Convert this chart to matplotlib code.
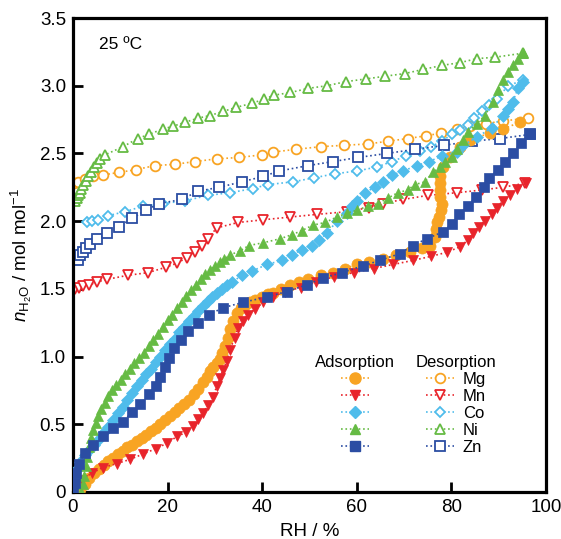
import matplotlib
matplotlib.use("Agg")
import matplotlib.pyplot as plt
from matplotlib.lines import Line2D

plt.rcParams['font.family'] = ['Liberation Sans', 'DejaVu Sans']
plt.rcParams['mathtext.fontset'] = 'custom'
plt.rcParams['mathtext.rm'] = 'Liberation Sans'
plt.rcParams['mathtext.it'] = 'Liberation Sans:italic'

metals = ['Mg', 'Mn', 'Co', 'Ni', 'Zn']
colors = ['#F8A423', '#E8242B', '#4FBCEB', '#66BB44', '#2B4DA3']
ads_markers = ['o', 'v', 'D', '^', 's']
des_markers = ['o', 'v', 'D', '^', 's']

# adsorption branches (RH %, n H2O mol/mol)
mg_ads_x = [0.5, 1.5, 2.5, 3.5, 4.5, 5.5, 6.5, 7.5, 8.5, 9.5, 10.5, 11.5, 12.5, 13.5, 14.5,
            15.5, 16.5, 17.5, 18.5, 19.5, 20.5, 21.5, 22.5, 23.5, 24.5, 25.5, 26.5, 27.5,
            28.3, 29.0, 29.7, 30.4, 31.0, 31.6, 32.1, 32.7, 33.2, 33.8, 34.7, 35.5, 36.4,
            37.5, 38.5, 40.0, 41.2, 42.3, 44.0, 45.9, 47.8, 49.7, 52.4, 55.0, 57.5, 60.0,
            62.7, 65.5, 68.3, 71.2, 73.8, 75.5, 76.5, 76.7, 76.9, 77.4, 77.8, 78.0, 77.7,
            77.6, 77.6, 77.6, 78.2, 79.7, 81.8, 83.9, 88.2, 90.9, 94.5]
mg_ads_y = [0.00, 0.02, 0.06, 0.10, 0.14, 0.17, 0.20, 0.23, 0.25, 0.28, 0.30, 0.33, 0.35, 0.38, 0.40,
            0.42, 0.45, 0.47, 0.50, 0.53, 0.56, 0.59, 0.62, 0.65, 0.68, 0.72, 0.76, 0.81,
            0.85, 0.89, 0.92, 0.95, 0.98, 1.03, 1.08, 1.14, 1.20, 1.26, 1.32, 1.36, 1.38,
            1.40, 1.42, 1.44, 1.46, 1.47, 1.50, 1.53, 1.55, 1.57, 1.60, 1.62, 1.65, 1.68,
            1.70, 1.72, 1.75, 1.77, 1.80, 1.82, 1.88, 1.94, 1.99, 2.03, 2.08, 2.13, 2.18,
            2.23, 2.28, 2.33, 2.40, 2.47, 2.55, 2.60, 2.65, 2.68, 2.73]

mn_ads_x = [0.0, 1.9, 4.0, 6.3, 9.3, 12.0, 14.8, 17.5, 19.9, 22.0, 23.9, 25.4, 26.4, 27.5,
            28.5, 29.6, 30.4, 31.1, 31.7, 32.6, 33.2, 34.2, 34.9, 35.9, 37.0, 38.5, 40.2,
            42.3, 44.8, 48.2, 51.4, 55.2, 59.4, 63.6, 67.7, 71.9, 75.7, 79.1, 81.8, 83.5,
            84.6, 85.8, 87.1, 88.6, 89.6, 90.9, 92.4, 93.9, 95.8]
mn_ads_y = [0.01, 0.09, 0.14, 0.18, 0.21, 0.24, 0.28, 0.32, 0.36, 0.41, 0.44, 0.49, 0.54, 0.58,
            0.64, 0.70, 0.78, 0.84, 0.90, 0.97, 1.05, 1.14, 1.21, 1.26, 1.31, 1.35, 1.40,
            1.44, 1.48, 1.51, 1.55, 1.59, 1.62, 1.65, 1.68, 1.71, 1.74, 1.77, 1.81, 1.86,
            1.91, 1.96, 2.00, 2.05, 2.10, 2.15, 2.19, 2.24, 2.28]

co_ads_x = [0.0, 0.3, 0.8, 1.5, 2.5, 3.5, 4.5, 5.5, 6.5, 7.5, 8.5, 9.5, 10.5, 11.5, 12.5,
            13.5, 14.5, 15.5, 16.5, 17.5, 18.5, 19.5, 20.5, 21.5, 22.5, 23.5, 24.5, 25.5,
            26.5, 27.5, 28.5, 29.5, 30.5, 31.5, 32.6, 33.7, 35.7, 37.8, 41.0, 44.2, 46.3,
            48.4, 50.5, 52.0, 53.7, 55.8, 57.9, 59.0, 60.0, 61.7, 63.8, 65.5, 67.5, 69.8,
            72.7, 75.3, 78.0, 81.2, 82.5, 85.4, 88.6, 90.9, 92.0, 93.0, 94.1, 95.1]
co_ads_y = [0.03, 0.10, 0.17, 0.22, 0.27, 0.31, 0.35, 0.39, 0.44, 0.48, 0.53, 0.58, 0.63, 0.68, 0.73,
            0.78, 0.83, 0.87, 0.91, 0.96, 1.00, 1.05, 1.09, 1.13, 1.18, 1.22, 1.26, 1.30,
            1.34, 1.37, 1.41, 1.44, 1.47, 1.50, 1.53, 1.55, 1.60, 1.63, 1.68, 1.71, 1.75,
            1.79, 1.82, 1.86, 1.91, 2.00, 2.06, 2.11, 2.15, 2.21, 2.25, 2.29, 2.34, 2.37,
            2.41, 2.44, 2.48, 2.51, 2.56, 2.62, 2.69, 2.78, 2.83, 2.88, 2.98, 3.03]

ni_ads_x = [1.8, 2.1, 2.4, 2.7, 3.0, 3.4, 3.8, 4.3, 4.8, 5.4, 6.0, 6.7, 7.5, 8.3, 9.2,
            10.1, 11.0, 12.0, 13.0, 14.0, 15.0, 16.0, 17.0, 18.0, 19.0, 20.0, 21.0, 22.0,
            23.0, 24.0, 25.0, 26.0, 27.0, 28.0, 29.0, 30.0, 31.0, 32.0, 33.2, 35.3, 37.2,
            40.2, 43.8, 46.3, 48.4, 50.7, 53.3, 55.8, 58.0, 60.0, 62.3, 64.5, 66.6, 68.7,
            70.8, 72.3, 74.4, 76.1, 77.6, 78.6, 80.1, 81.2, 82.5, 83.5, 85.4, 87.1, 88.8,
            89.9, 90.9, 92.0, 93.0, 94.1, 95.1]
ni_ads_y = [0.00, 0.06, 0.12, 0.19, 0.26, 0.33, 0.40, 0.46, 0.51, 0.56, 0.61, 0.66, 0.71, 0.75, 0.79,
            0.83, 0.87, 0.91, 0.95, 0.99, 1.03, 1.08, 1.12, 1.17, 1.22, 1.27, 1.31, 1.36,
            1.40, 1.45, 1.49, 1.53, 1.57, 1.61, 1.64, 1.67, 1.70, 1.72, 1.75, 1.78, 1.82,
            1.84, 1.87, 1.90, 1.93, 1.97, 1.99, 2.03, 2.06, 2.08, 2.11, 2.13, 2.17, 2.21,
            2.23, 2.27, 2.29, 2.36, 2.40, 2.44, 2.47, 2.53, 2.60, 2.66, 2.72, 2.78, 2.88,
            2.97, 3.04, 3.10, 3.15, 3.20, 3.24]

zn_ads_x = [0.0, 0.4, 0.6, 1.3, 2.5, 4.2, 6.3, 8.5, 10.6, 12.5, 14.2, 16.0, 17.5, 18.4, 19.5,
            20.3, 21.4, 22.8, 24.3, 26.4, 28.8, 31.7, 35.9, 41.0, 45.2, 49.5, 52.9, 56.9,
            61.3, 64.9, 69.1, 71.9, 74.8, 78.2, 80.1, 81.6, 83.5, 85.2, 86.9, 88.0, 89.9,
            91.3, 93.0, 94.7, 96.6]
zn_ads_y = [0.00, 0.07, 0.14, 0.21, 0.29, 0.35, 0.41, 0.47, 0.52, 0.59, 0.65, 0.72, 0.78, 0.85, 0.92,
            0.99, 1.06, 1.12, 1.19, 1.25, 1.31, 1.36, 1.40, 1.44, 1.48, 1.53, 1.58, 1.62,
            1.67, 1.71, 1.76, 1.82, 1.87, 1.92, 1.98, 2.05, 2.11, 2.18, 2.25, 2.32, 2.38,
            2.44, 2.50, 2.58, 2.64]

# desorption branches
mg_des_x = [0.3, 1.1, 2.5, 4.2, 6.3, 9.7, 13.3, 17.3, 21.6, 25.8, 30.4, 35.1, 40.0, 42.3,
            47.1, 52.4, 57.3, 62.4, 66.6, 70.8, 74.6, 77.8, 81.2, 83.9, 87.3, 90.9, 96.2]
mg_des_y = [2.28, 2.29, 2.31, 2.33, 2.34, 2.36, 2.38, 2.41, 2.42, 2.44, 2.46, 2.47, 2.49, 2.51,
            2.53, 2.55, 2.56, 2.57, 2.59, 2.61, 2.63, 2.65, 2.68, 2.70, 2.72, 2.74, 2.76]

mn_des_x = [0.4, 1.2, 2.2, 3.5, 5.0, 7.2, 11.6, 15.9, 19.7, 22.0, 24.1, 25.8, 27.3, 28.5,
            30.4, 34.9, 40.2, 45.9, 51.6, 57.9, 62.6, 65.5, 69.8, 75.0, 81.2, 86.5, 90.9, 95.6]
mn_des_y = [1.50, 1.51, 1.52, 1.53, 1.55, 1.57, 1.60, 1.62, 1.66, 1.69, 1.73, 1.77, 1.82, 1.87,
            1.95, 1.99, 2.01, 2.03, 2.05, 2.07, 2.10, 2.13, 2.16, 2.19, 2.21, 2.23, 2.25, 2.28]

co_des_x = [3.0, 4.0, 5.3, 7.4, 11.0, 14.8, 19.0, 23.7, 28.5, 33.2, 38.0, 41.2, 46.5, 51.0,
            55.4, 60.0, 64.3, 67.4, 70.4, 73.4, 75.7, 78.0, 80.1, 81.8, 83.5, 84.8, 86.5,
            88.0, 89.6, 92.0, 95.1]
co_des_y = [1.99, 2.00, 2.01, 2.04, 2.07, 2.11, 2.13, 2.15, 2.19, 2.21, 2.24, 2.27, 2.29, 2.32,
            2.35, 2.37, 2.40, 2.44, 2.48, 2.52, 2.55, 2.59, 2.64, 2.67, 2.71, 2.76, 2.81,
            2.86, 2.90, 3.00, 3.04]

ni_des_x = [0.5, 0.8, 1.1, 1.4, 1.8, 2.2, 2.7, 3.2, 3.8, 4.4, 5.0, 5.8, 6.8, 10.6, 13.7,
            16.0, 19.0, 21.1, 23.7, 26.4, 29.0, 31.7, 34.5, 37.8, 40.4, 42.5, 46.0, 49.7,
            53.7, 57.7, 61.9, 66.0, 70.2, 74.0, 78.0, 81.8, 85.4, 89.2, 95.1]
ni_des_y = [2.15, 2.17, 2.19, 2.21, 2.24, 2.27, 2.30, 2.33, 2.36, 2.40, 2.43, 2.46, 2.49, 2.55, 2.61,
            2.64, 2.68, 2.70, 2.73, 2.76, 2.78, 2.81, 2.84, 2.87, 2.90, 2.93, 2.95, 2.98,
            3.00, 3.03, 3.05, 3.07, 3.09, 3.12, 3.15, 3.17, 3.20, 3.21, 3.24]

zn_des_x = [1.1, 1.5, 2.1, 2.7, 3.6, 5.1, 7.2, 9.7, 12.5, 15.4, 18.2, 23.0, 26.4, 30.9, 35.7,
            40.2, 43.6, 49.7, 55.0, 60.3, 66.4, 72.3, 78.4, 84.4, 90.3, 96.6]
zn_des_y = [1.71, 1.75, 1.77, 1.80, 1.83, 1.87, 1.91, 1.96, 2.02, 2.08, 2.13, 2.16, 2.22, 2.25, 2.29,
            2.33, 2.37, 2.41, 2.44, 2.47, 2.50, 2.53, 2.56, 2.59, 2.61, 2.64]

ads = [(mg_ads_x, mg_ads_y), (mn_ads_x, mn_ads_y), (co_ads_x, co_ads_y),
       (ni_ads_x, ni_ads_y), (zn_ads_x, zn_ads_y)]
des = [(mg_des_x, mg_des_y), (mn_des_x, mn_des_y), (co_des_x, co_des_y),
       (ni_des_x, ni_des_y), (zn_des_x, zn_des_y)]
ads_ms = [8, 7.5, 6, 7.5, 7.5]
des_ms = [7, 7, 5.5, 7, 7]

fig = plt.figure(figsize=(5.61, 5.39), dpi=100)
ax = fig.add_axes([0.130, 0.0872, 0.843, 0.8794])

for i in range(5):
    x, y = des[i]
    ax.plot(x, y, ls=':', lw=1.2, color=colors[i], marker=des_markers[i], ms=des_ms[i],
            mfc='white', mec=colors[i], mew=1.3, zorder=2)
for i in range(5):
    x, y = ads[i]
    ax.plot(x, y, ls=':', lw=1.2, color=colors[i], marker=ads_markers[i], ms=ads_ms[i],
            mfc=colors[i], mec=colors[i], mew=0.5, zorder=3)

ax.set_xlim(0, 100)
ax.set_ylim(0, 3.5)
ax.set_xticks([0, 20, 40, 60, 80, 100])
ax.set_yticks([0, 0.5, 1.0, 1.5, 2.0, 2.5, 3.0, 3.5])
ax.set_yticklabels(['0', '0.5', '1.0', '1.5', '2.0', '2.5', '3.0', '3.5'])
ax.tick_params(direction='in', length=7, width=2, labelsize=13.5, pad=5)
for s in ax.spines.values():
    s.set_linewidth(2.3)
ax.set_xlabel('RH / %', fontsize=13.5, labelpad=5)
ax.set_ylabel(r'$n_{\mathrm{H_2O}}$ / mol mol$^{-1}$', fontsize=13.5, labelpad=4)
ax.text(5.5, 3.27, '25 \u00baC', fontsize=12.5)

h_ads = [Line2D([], [], ls=':', lw=1.2, color=colors[i], marker=ads_markers[i], ms=ads_ms[i],
                mfc=colors[i], mec=colors[i]) for i in range(5)]
h_des = [Line2D([], [], ls=':', lw=1.2, color=colors[i], marker=des_markers[i], ms=des_ms[i],
                mfc='white', mec=colors[i], mew=1.3) for i in range(5)]
leg1 = ax.legend(h_ads, [''] * 5, title='Adsorption', loc='center', bbox_to_anchor=(0.597, 0.184),
                 frameon=False, fontsize=12, title_fontsize=12, handlelength=1.7,
                 handletextpad=0.0, labelspacing=0.12, borderpad=0, numpoints=1)
ax.add_artist(leg1)
ax.legend(h_des, metals, title='Desorption', loc='center', bbox_to_anchor=(0.81, 0.184),
          frameon=False, fontsize=12, title_fontsize=12, handlelength=1.7,
          handletextpad=0.5, labelspacing=0.12, borderpad=0, numpoints=1)

fig.savefig('out.png', dpi=100)
